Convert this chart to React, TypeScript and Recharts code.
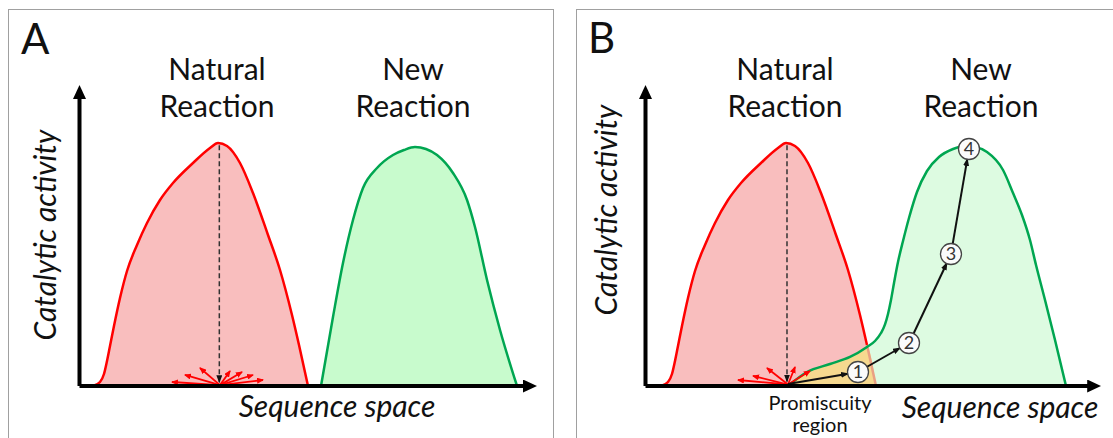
import React from 'react';
import { ComposedChart, Area, Line, Scatter, XAxis, YAxis, ReferenceLine } from 'recharts';

// ---------- Panel A data (x: sequence space units 0-100, y: activity units 0-100) ----------
const redAX = [2.98, 4.53, 5.41, 6.08, 6.74, 7.62, 8.95, 10.5, 12.71, 14.92, 17.79, 20.66, 25.08, 28.84, 30.61, 32.6, 35.47, 38.34, 41.66, 44.31, 46.96, 48.51, 50.5];
const redAY = [0, 1.35, 4.05, 8.45, 13.51, 20.27, 29.73, 38.85, 47.64, 55.07, 62.84, 68.58, 75.34, 80.41, 82.09, 81.08, 75.34, 65.2, 51.01, 39.19, 23.99, 13.85, 0];
const greenAX = [53.37, 56.02, 58.23, 60.44, 62.65, 65.75, 69.28, 71.71, 74.14, 76.57, 79.01, 82.54, 85.64, 87.4, 90.06, 92.93, 96.69];
const greenAY = [0, 23.31, 41.55, 56.08, 66.89, 73.65, 78.04, 79.73, 80.74, 80.07, 78.04, 71.96, 62.84, 53.72, 35.81, 18.92, 0];
const fanACenter = [31.05, 0.3];
const fanATipX = [20.44, 23.31, 26.63, 33.26, 35.91, 38.34, 40.55];
const fanATipY = [1.35, 3.72, 6.08, 5.07, 4.73, 3.72, 2.03];
const dropAX = [30.9, 30.9];
const dropAY = [81.3, 1.3];

// ---------- Panel B data ----------
const redBX = [3.42, 4.97, 5.85, 6.52, 7.18, 8.06, 9.39, 10.94, 13.15, 15.36, 18.23, 21.1, 25.52, 29.28, 31.05, 33.04, 35.91, 38.78, 42.1, 44.75, 47.4, 48.95, 50.94];
const redBY = [0, 1.35, 4.05, 8.45, 13.51, 20.27, 29.73, 38.85, 47.64, 55.07, 62.84, 68.58, 75.34, 80.41, 82.09, 81.08, 75.34, 65.2, 51.01, 39.19, 23.99, 13.85, 0];
const greenBX = [31.49, 35.69, 40.77, 45.19, 48.95, 50.72, 52.04, 52.93, 53.59, 54.25, 54.92, 55.8, 56.91, 58.23, 60.0, 62.21, 64.86, 67.96, 70.61, 72.82, 75.47, 79.01, 81.22, 83.2, 84.97, 86.3, 88.29, 90.5, 92.93];
const greenBY = [0, 4.73, 7.43, 9.8, 13.2, 15.2, 17.9, 20.8, 24.32, 29.05, 34.8, 41.89, 48.99, 56.76, 65.54, 72.64, 77.36, 80.07, 81.08, 80.74, 79.05, 72.97, 65.2, 57.77, 49.32, 40.88, 29.05, 15.54, 0];
const overlapX = [31.49, 35.69, 40.77, 45.19, 48.95, 50.94];
const overlapY = [0, 4.73, 7.43, 9.8, 13.2, 0];
const fanBCenter = [31.49, 0.5];
const fanBTipX = [20.44, 23.76, 26.85, 33.04, 36.35];
const fanBTipY = [2.03, 3.38, 6.08, 6.42, 5.07];
const dropBX = [31.27, 31.27];
const dropBY = [81.3, 1.5];
const stepX = [46.96, 58.23, 67.51, 71.49];
const stepY = [4.73, 14.53, 44.59, 80.07];
const stepLabels = ['1', '2', '3', '4'];
const pathFromX = [31.49, 48.88, 59.2, 67.88];
const pathFromY = [0.68, 6.42, 17.57, 47.94];
const pathToX = [44.77, 56.24, 66.6, 71.12];
const pathToY = [4.16, 12.84, 41.55, 76.72];
const axisEndA = [100, 100];
const axisEndB = [99.6, 100];

const zip = (xs: number[], ys: number[]) => xs.map((x, i) => ({ x, y: ys[i] }));

const redA = zip(redAX, redAY);
const greenA = zip(greenAX, greenAY);
const redB = zip(redBX, redBY);
const redBMain = redB.slice(0, 22);
const redBTail = redB.slice(21);
const greenB = zip(greenBX, greenBY);
const overlapB = zip(overlapX, overlapY);
const steps = stepX.map((x, i) => ({ x, y: stepY[i], label: stepLabels[i] }));

const FONT = "Lato, 'Open Sans', sans-serif";
const RED = '#FF0000';
const GREEN = '#00A651';
const RED_FILL = '#F9BEBE';

const arrowShape = (marker: string) => (p: any) => (
  <line
    x1={p.x1}
    y1={p.y1}
    x2={p.x2}
    y2={p.y2}
    stroke={p.stroke}
    strokeWidth={p.strokeWidth}
    strokeDasharray={p.strokeDasharray}
    markerEnd={`url(#${marker})`}
  />
);

const StepShape = (p: any) => (
  <g>
    <circle cx={p.cx} cy={p.cy} r={10.5} fill="#fbfbfb" stroke="#444" strokeWidth={1.3} />
    <text x={p.cx} y={p.cy + 6} textAnchor="middle" fontSize={18} fontFamily={FONT} fill="#333">
      {p.payload.label}
    </text>
  </g>
);

const axes = (end: number[]) => [
  <ReferenceLine key="xa" segment={[{ x: 0, y: 0 }, { x: end[0], y: 0 }]} stroke="#000" strokeWidth={4} ifOverflow="visible" shape={arrowShape('axisHead')} />,
  <ReferenceLine key="ya" segment={[{ x: 0, y: 0 }, { x: 0, y: end[1] }]} stroke="#000" strokeWidth={4} ifOverflow="visible" shape={arrowShape('axisHead')} />,
];

const fan = (c: number[], tx: number[], ty: number[], k: string) =>
  tx.map((x, i) => (
    <ReferenceLine key={k + i} segment={[{ x: c[0], y: c[1] }, { x, y: ty[i] }]} stroke={RED} strokeWidth={1.8} ifOverflow="visible" shape={arrowShape('redHead')} />
  ));

const hiddenAxes = [
  <XAxis key="x" type="number" dataKey="x" domain={[0, 100]} hide allowDataOverflow />,
  <YAxis key="y" type="number" dataKey="y" domain={[0, 100]} hide allowDataOverflow />,
];

function PanelA() {
  return (
    <ComposedChart width={560} height={438} margin={{ top: 90, bottom: 52, left: 79.5, right: 28 }}>
      {hiddenAxes}
      <Area data={redA} dataKey="y" type="monotone" fill={RED_FILL} fillOpacity={1} stroke={RED} strokeWidth={2.5} isAnimationActive={false} />
      <Area data={greenA} dataKey="y" type="monotone" fill="#C8FBCD" fillOpacity={1} stroke={GREEN} strokeWidth={2.5} isAnimationActive={false} />
      <ReferenceLine segment={[{ x: dropAX[0], y: dropAY[0] }, { x: dropAX[1], y: dropAY[1] }]} stroke="#333" strokeWidth={1.5} strokeDasharray="5 3" ifOverflow="visible" shape={arrowShape('blackHead')} />
      {fan(fanACenter, fanATipX, fanATipY, 'fa')}
      {axes(axisEndA)}
    </ComposedChart>
  );
}

function PanelB() {
  return (
    <ComposedChart width={553} height={438} margin={{ top: 90, bottom: 52, left: 85.5, right: 15 }}>
      {hiddenAxes}
      <Area data={redB} dataKey="y" type="monotone" fill={RED_FILL} fillOpacity={1} stroke="none" isAnimationActive={false} />
      <Area data={greenB} dataKey="y" type="monotone" fill="#DDFBE1" fillOpacity={1} stroke="none" isAnimationActive={false} />
      <Area data={overlapB} dataKey="y" type="monotone" fill="#F6D98F" fillOpacity={1} stroke="none" isAnimationActive={false} />
      <Line data={redBMain} dataKey="y" type="monotone" stroke={RED} strokeWidth={2.5} dot={false} isAnimationActive={false} />
      <Line data={redBTail} dataKey="y" type="linear" stroke="#E9A084" strokeWidth={2.5} dot={false} isAnimationActive={false} />
      <Line data={greenB} dataKey="y" type="monotone" stroke={GREEN} strokeWidth={2.5} dot={false} isAnimationActive={false} />
      <ReferenceLine segment={[{ x: dropBX[0], y: dropBY[0] }, { x: dropBX[1], y: dropBY[1] }]} stroke="#333" strokeWidth={1.5} strokeDasharray="5 3" ifOverflow="visible" shape={arrowShape('blackHead')} />
      {fan(fanBCenter, fanBTipX, fanBTipY, 'fb')}
      {pathFromX.map((x, i) => (
        <ReferenceLine key={'p' + i} segment={[{ x, y: pathFromY[i] }, { x: pathToX[i], y: pathToY[i] }]} stroke="#111" strokeWidth={2} ifOverflow="visible" shape={arrowShape('blackHead')} />
      ))}
      {axes(axisEndB)}
      <Scatter data={steps} dataKey="y" shape={StepShape} isAnimationActive={false} />
    </ComposedChart>
  );
}

const T = ({ x, y, children, size = 30, italic = false, anchor = 'middle', rotate = 0 }: any) => (
  <text
    x={x}
    y={y}
    fontSize={size}
    fontFamily={FONT}
    fontStyle={italic ? 'italic' : 'normal'}
    textAnchor={anchor}
    fill="#111"
    transform={rotate ? `rotate(${rotate} ${x} ${y})` : undefined}
  >
    {children}
  </text>
);

export default function App() {
  return (
    <div style={{ position: 'absolute', left: 0, top: 0, width: 1113, height: 438, background: '#fff', overflow: 'hidden' }}>
      <svg width={0} height={0} style={{ position: 'absolute' }}>
        <defs>
          <marker id="axisHead" markerUnits="userSpaceOnUse" markerWidth={14} markerHeight={13} refX={9} refY={6.5} orient="auto">
            <path d="M0,0 L14,6.5 L0,13 z" fill="#000" />
          </marker>
          <marker id="redHead" markerUnits="userSpaceOnUse" markerWidth={7} markerHeight={6} refX={6} refY={3} orient="auto">
            <path d="M0,0 L7,3 L0,6 z" fill={RED} />
          </marker>
          <marker id="blackHead" markerUnits="userSpaceOnUse" markerWidth={8} markerHeight={6} refX={7} refY={3} orient="auto">
            <path d="M0,0 L8,3 L0,6 z" fill="#111" />
          </marker>
        </defs>
      </svg>
      <div style={{ position: 'absolute', left: 8, top: 9, width: 546, height: 440, border: '1.5px solid #a0a0a0', boxSizing: 'border-box' }} />
      <div style={{ position: 'absolute', left: 576, top: 9, width: 560, height: 440, border: '1.5px solid #a0a0a0', boxSizing: 'border-box' }} />
      <div style={{ position: 'absolute', left: 0, top: 0 }}>
        <PanelA />
      </div>
      <div style={{ position: 'absolute', left: 560, top: 0 }}>
        <PanelB />
      </div>
      <svg width={1113} height={438} style={{ position: 'absolute', left: 0, top: 0, pointerEvents: 'none' }}>
        <T x={21} y={54} size={42} anchor="start">A</T>
        <T x={588} y={53} size={42} anchor="start">B</T>
        <T x={217} y={80}>Natural</T>
        <T x={217} y={117}>Reaction</T>
        <T x={413} y={80}>New</T>
        <T x={413} y={117}>Reaction</T>
        <T x={785} y={80}>Natural</T>
        <T x={785} y={117}>Reaction</T>
        <T x={981} y={80}>New</T>
        <T x={981} y={117}>Reaction</T>
        <T x={337} y={417} italic>Sequence space</T>
        <T x={1000} y={418} italic>Sequence space</T>
        <T x={56} y={235} italic rotate={-90}>Catalytic activity</T>
        <T x={617} y={210} italic rotate={-90}>Catalytic activity</T>
        <T x={820} y={410} size={20}>Promiscuity</T>
        <T x={820} y={432} size={20}>region</T>
      </svg>
    </div>
  );
}
